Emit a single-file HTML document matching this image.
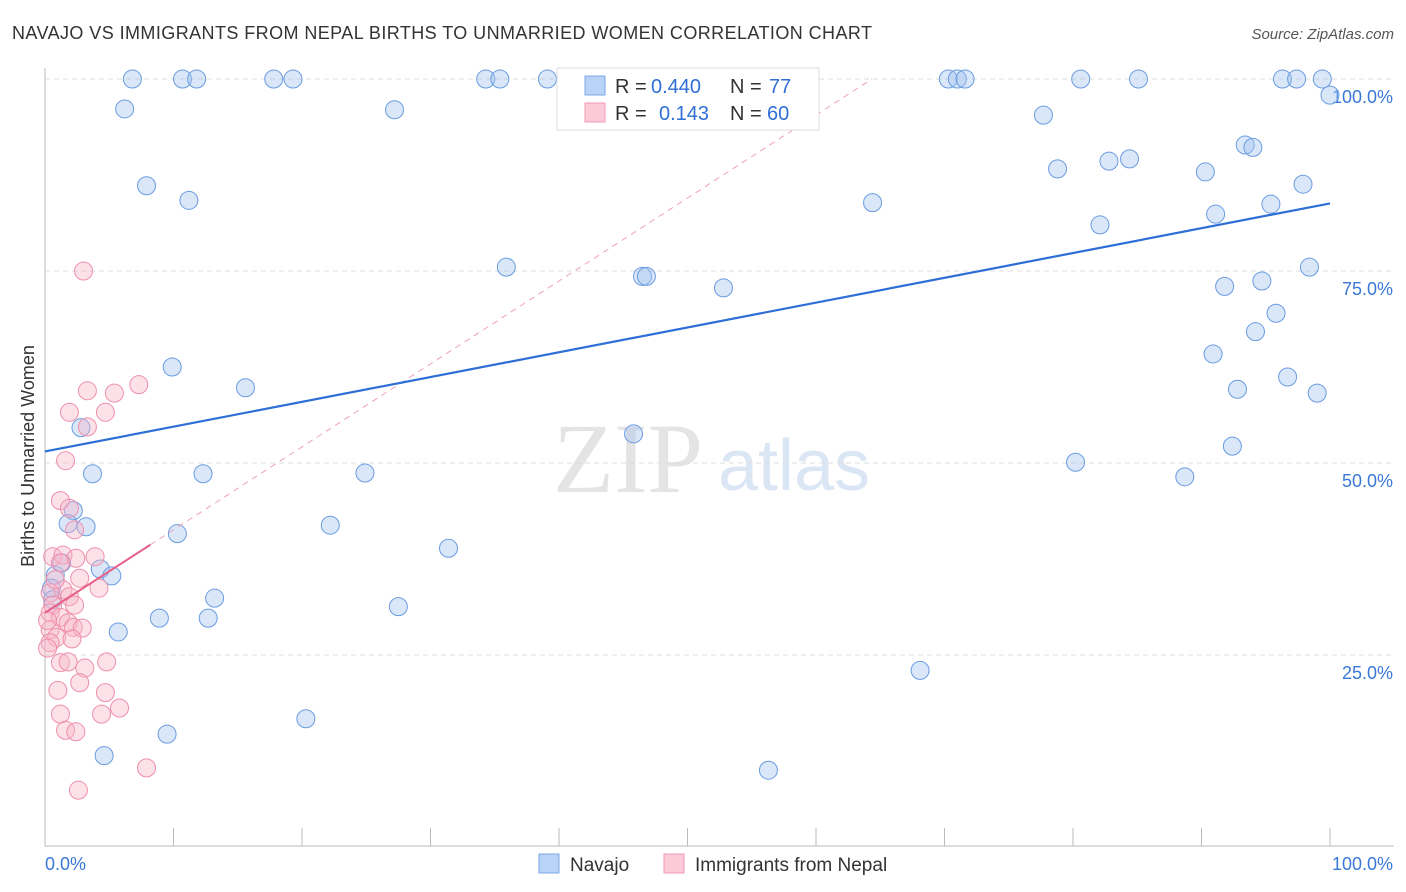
<!DOCTYPE html>
<html><head><meta charset="utf-8"><style>
body{margin:0;background:#fff;font-family:"Liberation Sans",sans-serif;}
svg{display:block}
</style></head><body>
<svg id="chart" width="1406" height="892">
<text x="12" y="39" font-size="18" fill="#333" textLength="860">NAVAJO VS IMMIGRANTS FROM NEPAL BIRTHS TO UNMARRIED WOMEN CORRELATION CHART</text>
<text x="1394" y="39" font-size="15" fill="#555" font-style="italic" text-anchor="end">Source: ZipAtlas.com</text>
<text x="553" y="492" font-size="100" fill="#e4e4e4" font-family="Liberation Serif,serif">ZIP</text>
<text x="718" y="490" font-size="72" fill="#dbe6f5">atlas</text>
<text transform="translate(34,456) rotate(-90)" font-size="18" fill="#333" text-anchor="middle">Births to Unmarried Women</text>
<g id="grid"></g><g id="marks"></g>
<g>
<rect x="557" y="68" width="262" height="62" fill="#fff" stroke="#ddd"/>
<rect x="585" y="76" width="20" height="19" fill="#b8d3f5" stroke="#7aa8e6"/>
<rect x="585" y="103" width="20" height="19" fill="#fbc9d7" stroke="#f09ab4"/>
<text x="615" y="93" font-size="20" fill="#333">R =</text>
<text x="651" y="93" font-size="20" fill="#2f6fd6">0.440</text>
<text x="730" y="93" font-size="20" fill="#333">N =</text>
<text x="769" y="93" font-size="20" fill="#2f6fd6">77</text>
<text x="615" y="120" font-size="20" fill="#333">R =</text>
<text x="659" y="120" font-size="20" fill="#2f6fd6">0.143</text>
<text x="730" y="120" font-size="20" fill="#333">N =</text>
<text x="767" y="120" font-size="20" fill="#2f6fd6">60</text>
</g>
<g>
<rect x="539" y="854" width="20" height="19" fill="#b8d3f5" stroke="#7aa8e6"/>
<text x="570" y="871" font-size="19" fill="#333">Navajo</text>
<rect x="664" y="854" width="20" height="19" fill="#fbc9d7" stroke="#f09ab4"/>
<text x="695" y="871" font-size="19" fill="#333">Immigrants from Nepal</text>
</g>
</svg>
<script>
const navajoX=[6.8,10.7,11.8,17.8,19.3,34.3,35.4,39.1,70.3,71.0,71.6,80.6,85.1,96.3,97.4,99.4,100,6.2,27.2,77.7,7.9,11.2,78.8,82.8,84.4,90.3,93.4,94.0,97.9,64.4,95.4,91.1,82.1,35.9,46.5,46.8,52.8,91.8,94.7,98.4,95.8,94.2,90.9,9.9,15.6,96.7,92.8,99.0,2.8,45.8,92.4,3.7,12.3,24.9,80.2,88.7,2.2,1.8,3.2,10.3,22.2,31.4,4.3,5.2,0.8,1.3,13.2,8.9,12.7,27.5,5.7,68.1,20.3,9.5,4.6,56.3,0.5,0.6];
const navajoY=[100,100,100,100,100,100,100,100,100,100,100,100,100,100,100,100,97.9,96.1,96.0,95.3,86.1,84.2,88.3,89.3,89.6,87.9,91.4,91.1,86.3,83.9,83.7,82.4,81.0,75.5,74.3,74.3,72.8,73.0,73.7,75.5,69.5,67.1,64.2,62.5,59.8,61.2,59.6,59.1,54.6,53.8,52.2,48.6,48.6,48.7,50.1,48.2,43.8,42.1,41.7,40.8,41.9,38.9,36.2,35.3,35.4,37.0,32.4,29.8,29.8,31.3,28.0,23.0,16.7,14.7,11.9,10.0,33.7,32.2];
const nepalX=[3.3,5.4,7.3,1.9,4.7,3.3,1.6,1.2,1.9,2.3,0.6,1.4,2.4,3.9,1.2,2.7,4.2,1.4,0.4,1.9,0.6,2.3,0.4,1.2,1.8,2.2,2.9,0.4,0.9,2.1,0.4,1.2,1.8,3.1,4.8,1.0,2.7,4.7,5.8,1.2,4.4,1.6,2.4,7.9,2.6,3.0,0.2,0.2,0.8];
const nepalY=[59.4,59.1,60.2,56.6,56.6,54.7,50.3,45.1,44.1,41.3,37.8,38.0,37.6,37.8,37.0,35.0,33.7,33.5,33.1,32.6,31.5,31.5,30.5,29.9,29.2,28.6,28.5,28.3,27.3,27.1,26.6,24.0,24.1,23.3,24.1,20.4,21.4,20.1,18.1,17.3,17.3,15.2,15.0,10.3,7.4,75.0,29.5,25.9,34.8];
const navajoTrend=[51.5,83.8];
const nepalTrend=[30.5,1.08];
const yTicks=[25,50,75,100];
const NS='http://www.w3.org/2000/svg';
const X=v=>45+v*12.85, Y=v=>847-v*7.68;
function mk(t,a,p){const e=document.createElementNS(NS,t);for(const k in a)e.setAttribute(k,a[k]);p.appendChild(e);return e;}
const g=document.getElementById('grid'), m=document.getElementById('marks');
const ax=mk('line',{x1:45,y1:68,x2:45,y2:846,stroke:'#bbb'},g);


const bx=mk('line',{x1:45,y1:846,x2:1394,y2:846,stroke:'#bbb'},g);


for(let i=1;i<=10;i++){const t=mk('line',{x1:X(i*10),y1:828,x2:X(i*10),y2:846,stroke:'#bbb'},g);

}
yTicks.forEach(v=>{const l=mk('line',{x1:45,y1:Y(v),x2:1394,y2:Y(v),stroke:'#ddd','stroke-dasharray':'5,4'},g);


const t=mk('text',{x:1393,y:Y(v)+24,'font-size':18,fill:'#3a78d8','text-anchor':'end'},g);t.textContent=v.toFixed(1)+'%';

});
const x0=mk('text',{x:45,y:870,'font-size':18,fill:'#3a78d8'},g);x0.textContent='0.0%';


const x1=mk('text',{x:1393,y:870,'font-size':18,fill:'#3a78d8','text-anchor':'end'},g);x1.textContent='100.0%';


navajoX.forEach((v,i)=>{const c=mk('circle',{cx:X(v),cy:Y(navajoY[i]),r:9,fill:'rgba(160,195,240,0.4)',stroke:'#6a9ce0','stroke-width':1},m);

});
nepalX.forEach((v,i)=>{const c=mk('circle',{cx:X(v),cy:Y(nepalY[i]),r:9,fill:'rgba(248,180,200,0.4)',stroke:'#ee8fac','stroke-width':1},m);

});
const xe=(100-nepalTrend[0])/nepalTrend[1];
const pd=mk('line',{x1:X(8.2),y1:Y(nepalTrend[0]+nepalTrend[1]*8.2),x2:X(xe),y2:Y(100),stroke:'#f0a0b8','stroke-dasharray':'6,5','stroke-width':1},m);


const ps=mk('line',{x1:X(0),y1:Y(nepalTrend[0]),x2:X(8.2),y2:Y(nepalTrend[0]+nepalTrend[1]*8.2),stroke:'#e8608a','stroke-width':2},m);


const bl=mk('line',{x1:X(0),y1:Y(navajoTrend[0]),x2:X(100),y2:Y(navajoTrend[1]),stroke:'#2d6fd6','stroke-width':2.2},m);


</script>
</body></html>
